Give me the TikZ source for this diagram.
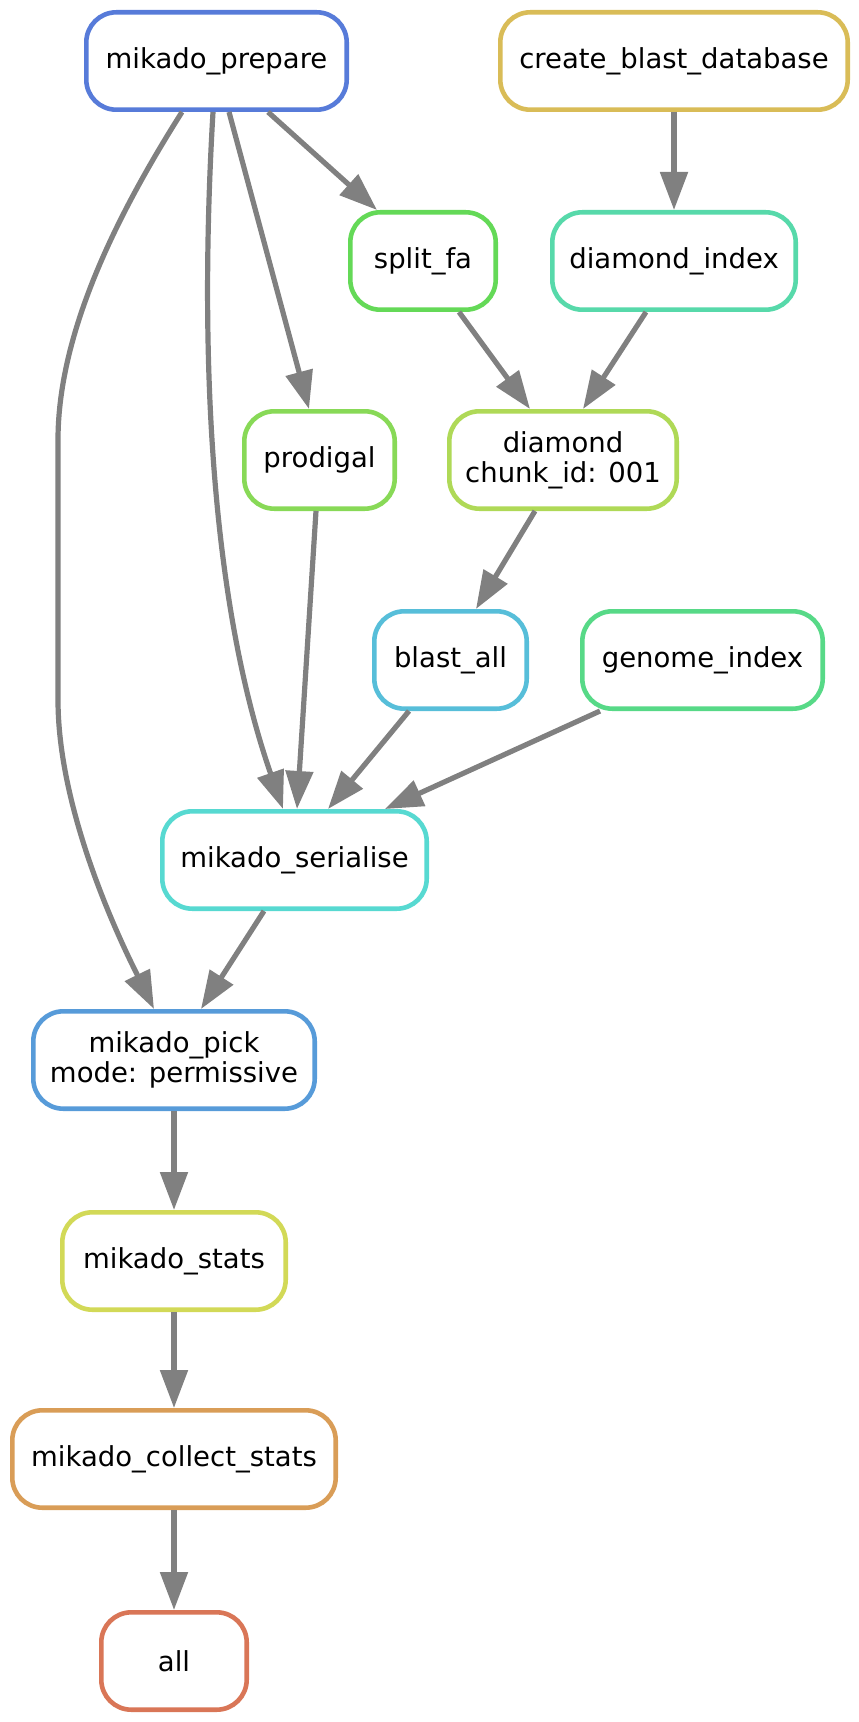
\documentclass[tikz,border=0pt]{standalone}
\usepackage{fontspec}
\setmainfont{DejaVu Sans}
\usetikzlibrary{arrows.meta}
\definecolor{edgegray}{RGB}{128,128,128}
\definecolor{cAll}{RGB}{217,118,87}
\definecolor{cCollect}{RGB}{217,157,87}
\definecolor{cCreate}{RGB}{217,188,87}
\definecolor{cStats}{RGB}{210,217,87}
\definecolor{cDiamond}{RGB}{175,217,87}
\definecolor{cProdigal}{RGB}{136,217,87}
\definecolor{cSplit}{RGB}{100,217,87}
\definecolor{cGenome}{RGB}{87,217,135}
\definecolor{cDindex}{RGB}{87,217,170}
\definecolor{cSerialise}{RGB}{87,217,209}
\definecolor{cBlast}{RGB}{87,190,217}
\definecolor{cPick}{RGB}{87,155,217}
\definecolor{cPrepare}{RGB}{87,123,217}
\begin{document}
\begin{tikzpicture}[x=0.5pt,y=-0.5pt,
  box/.style={draw, line width=2.3pt, rounded corners=15pt, minimum height=48.7pt,
    inner xsep=2pt, inner ysep=2pt, align=center, fill=white,
    font=\fontsize{13.75}{15}\selectfont},
  edge/.style={draw=edgegray, line width=2.6pt, -{Triangle[length=19pt,width=13.5pt]}}]
\useasboundingbox (0,0) rectangle (858,1722);

\node[box, draw=cPrepare, minimum width=130.2pt] (prep) at (216.5,61) {mikado\_prepare};
\node[box, draw=cCreate, minimum width=173.7pt] (create) at (674,61) {create\_blast\_database};
\node[box, draw=cSplit, minimum width=72.7pt] (split) at (423,261) {split\_fa};
\node[box, draw=cDindex, minimum width=121.7pt] (dindex) at (674,261) {diamond\_index};
\node[box, draw=cProdigal, minimum width=75.2pt] (prod) at (319.5,460) {prodigal};
\node[box, draw=cDiamond, minimum width=113.7pt] (dia) at (563,460) {diamond\\chunk\_id: 001};
\node[box, draw=cBlast, minimum width=76.2pt] (blast) at (450.5,660) {blast\_all};
\node[box, draw=cGenome, minimum width=120.2pt] (genome) at (702.5,660) {genome\_index};
\node[box, draw=cSerialise, minimum width=132.2pt] (ser) at (294.5,860) {mikado\_serialise};
\node[box, draw=cPick, minimum width=140.7pt] (pick) at (174,1060) {mikado\_pick\\mode: permissive};
\node[box, draw=cStats, minimum width=111.7pt] (stats) at (174,1261) {mikado\_stats};
\node[box, draw=cCollect, minimum width=161.7pt] (collect) at (174,1459) {mikado\_collect\_stats};
\node[box, draw=cAll, minimum width=72.7pt] (all) at (174,1661) {all};

\coordinate (w1) at (58,440);
\coordinate (w2) at (58,700);

\draw[edge] ([xshift=25.75pt]prep.south) -- ([xshift=-23pt]split.north);
\draw[edge] ([xshift=6.25pt]prep.south) -- ([xshift=-5.25pt]prod.north);
\draw[edge] ([xshift=-1.75pt]prep.south) .. controls (199,350) and (210,600) .. ([xshift=-5.75pt]ser.north);
\draw[edge] ([xshift=-17.25pt]prep.south) .. controls (120,210) and (58,330) .. (w1) -- (w2) .. controls (58,820) and (130,960) .. ([xshift=-10pt]pick.north);
\draw[edge] ([xshift=18pt]split.south) -- ([xshift=-16.5pt]dia.north);
\draw[edge] ([xshift=-14pt]dindex.south) -- ([xshift=10pt]dia.north);
\draw[edge] (create) -- (dindex);
\draw[edge] ([xshift=-14pt]dia.south) -- ([xshift=12.75pt]blast.north);
\draw[edge] ([xshift=-20.75pt]blast.south) -- ([xshift=16.75pt]ser.north);
\draw[edge] ([xshift=-51.25pt]genome.south) -- ([xshift=45.25pt]ser.north);
\draw[edge] ([xshift=-1.75pt]prod.south) -- ([xshift=1.25pt]ser.north);
\draw[edge] ([xshift=-15.25pt]ser.south) -- ([xshift=13.5pt]pick.north);
\draw[edge] (pick) -- (stats);
\draw[edge] (stats) -- (collect);
\draw[edge] (collect) -- (all);
\end{tikzpicture}
\end{document}
